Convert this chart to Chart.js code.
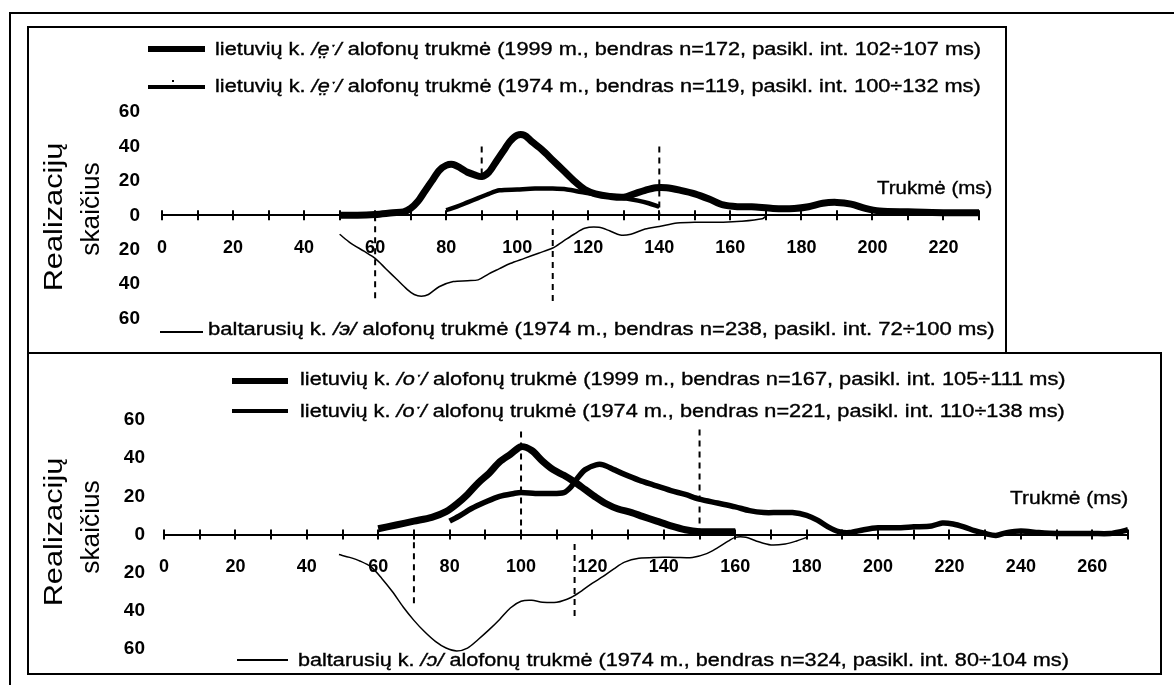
<!DOCTYPE html>
<html lang="lt">
<head>
<meta charset="UTF-8">
<title>Balsių trukmė</title>
<script src="https://cdn.jsdelivr.net/npm/chart.js"></script>
<style>
  body {
    margin: 0;
    width: 1174px;
    height: 685px;
    position: relative;
    overflow: hidden;
    background: #fff;
    color: #000;
    font-family: "Liberation Sans", Arial, sans-serif;
  }
  .rule { position: absolute; background: #000; }
  .box { position: absolute; border: 2px solid #000; box-sizing: border-box; }
  canvas { position: absolute; left: 0; }
  .txt {
    position: absolute;
    white-space: nowrap;
    line-height: 20px;
    font-size: 17.5px;
    -webkit-text-stroke: 0.35px #000;
  }
  .key { position: absolute; background: #000; }
</style>
</head>
<body>

<!-- frame -->
<div class="rule" style="left:9px; top:12px; width:1165px; height:2px;"></div>
<div class="rule" style="left:9px; top:12px; width:2px; height:673px;"></div>
<div class="box" style="left:27px; top:26px; width:980px; height:328px;"></div>
<div class="box" style="left:27px; top:352px; width:1135px; height:323px;"></div>

<!-- legend line samples -->
<div class="key" style="left:148px; top:46px; width:57px; height:6px;"></div>
<div class="key" style="left:148px; top:85px; width:57px; height:4px;"></div>
<div class="key" style="left:172px; top:80px; width:2px; height:2px;"></div>
<div class="key" style="left:160px; top:331px; width:43px; height:1.5px;"></div>
<div class="key" style="left:232px; top:378px; width:56px; height:6px;"></div>
<div class="key" style="left:232px; top:409px; width:56px; height:4px;"></div>
<div class="key" style="left:237px; top:659px; width:51px; height:1.5px;"></div>

<canvas id="topChart" width="1174" height="352" style="top:0; width:1174px; height:352px;"></canvas>
<canvas id="bottomChart" width="1174" height="333" style="top:352px; width:1174px; height:333px;"></canvas>

<script>
  const FONT = '"Liberation Sans", Arial, sans-serif';

  // /eː/ panel, duration (ms) -> count
  const eLt1999 = [[50,0],[55,0],[60,0.5],[65,1.5],[68,2],[70,4],[72,8],[74,14],[76,20],[78,26],[80,29],
    [82,29.5],[84,27.5],[86,25],[88,23.5],[90,22.5],[92,25],[94,31],[96,37],[98,43],[100,46.5],[102,46.5],
    [104,43],[107,38],[110,32],[113,26],[116,20],[119,15],[122,12.5],[126,11],[130,10.5],[133,12.5],
    [136,14.5],[139,16],[142,16],[146,14.5],[150,12.5],[154,9.5],[158,6],[162,5],[166,5],[172,4],[178,4],
    [182,5],[186,7],[190,7.5],[194,6.5],[198,4],[202,2.5],[210,2],[220,1.5],[230,1.5]];
  const eLt1974 = [[80,3],[83,5],[86,7.5],[89,10],[92,12.5],[95,14.5],[100,15],[105,15.5],[110,15.5],
    [114,15],[118,13.5],[122,12],[126,11],[130,10],[134,8.5],[137,7],[140,5]];
  const eBy1974 = [[50,-11],[53,-16],[57,-21],[60,-25],[63,-31],[66,-37],[69,-43],[71,-46],[73,-47],
    [75,-46],[78,-41.5],[82,-38.5],[86,-38],[89,-37.5],[92,-34],[95,-31],[98,-28],[102,-25],[106,-22],
    [110,-19],[113,-15],[116,-11],[119,-7.5],[123,-7],[126,-9],[129,-11.5],[132,-11],[136,-8],[140,-6.5],
    [145,-4.5],[150,-4],[158,-4],[163,-3.5],[169,-2],[170,-0.5]];
  const eDashes = [[[90,40],[90,22]], [[140,40],[140,0]], [[60,0],[60,-50]], [[110,-8],[110,-50]]];

  // /oː/ panel
  const oLt1999 = [[60,3],[65,5],[70,7],[75,9],[79,12],[82,16],[85,21],[88,27],[91,32],[94,38],[97,42],
    [100,46],[103,44],[106,38.5],[109,34],[112,31],[115,27.5],[118,23.5],[121,19.5],[124,16],[127,13.5],
    [131,11.5],[134,9.5],[138,7],[142,4.5],[146,2.5],[150,1.5],[155,1.5],[160,1.5]];
  const oLt1974 = [[80,7],[83,10],[86,13.5],[90,17],[94,20],[98,21.5],[100,22],[104,21.5],[108,21.5],
    [112,22],[114,25],[116,30],[118,34],[121,36.5],[123,36.5],[126,34],[129,31.5],[133,28.5],[137,26],
    [142,23],[146,21],[150,18.5],[155,16.5],[160,14.5],[164,12.5],[168,11.5],[172,11.5],[176,11.5],
    [180,10],[183,7.5],[186,4],[189,1.5],[192,1],[196,2.5],[200,3.5],[205,3.5],[210,4],[215,4.5],[218,6],
    [221,5.5],[224,4],[227,2],[230,0.5],[233,-0.5],[236,1],[240,1.8],[245,1],[250,0.5],[260,0.5],
    [265,0.5],[268,1.5],[270,2.5]];
  const oBy1974 = [[49,-10.5],[52,-12],[55,-14],[58,-17],[61,-23],[64,-30],[67,-38],[70,-45],[73,-51],
    [76,-56],[79,-59.5],[82,-61],[85,-59.5],[88,-55],[91,-50],[94,-44.5],[97,-38.5],[100,-35],[103,-34.5],
    [106,-35.5],[110,-35.5],[114,-33],[117,-29.5],[120,-25.5],[123,-22],[126,-18],[129,-14.5],[133,-12.5],
    [138,-12],[143,-12],[148,-12],[152,-10],[155,-7],[158,-3.5],[160,-1.5],[163,-1.5],[166,-3.5],
    [170,-5.5],[174,-5],[177,-3.5],[180,-1.5]];
  const oDashes = [[[100,54],[100,0]], [[150,55],[150,2]], [[70,-4],[70,-38]], [[115,-5],[115,-44]]];

  const toXY = pts => pts.map(([x, y]) => ({ x, y }));

  // tick marks that cross the zero line on both sides
  const crossTicks = {
    id: 'crossTicks',
    afterDraw(chart) {
      const xs = chart.scales.x, ys = chart.scales.y;
      const y0 = ys.getPixelForValue(0);
      const ctx = chart.ctx;
      ctx.save();
      ctx.strokeStyle = '#000';
      ctx.lineWidth = 2;
      xs.ticks.forEach(t => {
        const px = Math.round(xs.getPixelForValue(t.value));
        ctx.beginPath();
        ctx.moveTo(px, y0 - 5);
        ctx.lineTo(px, y0 + 5);
        ctx.stroke();
      });
      ctx.restore();
    }
  };

  function drawPanel(id, lines, dashes, xMax, pad, labelPad) {
    const datasets = lines.map(([pts, w]) => ({
      data: toXY(pts),
      borderColor: '#000',
      borderWidth: w,
      pointRadius: 0,
      tension: 0.3,
      fill: false,
      clip: false
    }));
    dashes.forEach(seg => datasets.push({
      data: toXY(seg),
      borderColor: '#000',
      borderWidth: 2,
      borderDash: [6, 5],
      pointRadius: 0,
      clip: false
    }));

    return new Chart(document.getElementById(id), {
      type: 'line',
      data: { datasets },
      options: {
        responsive: false,
        animation: false,
        layout: { padding: pad },
        plugins: { legend: { display: false }, tooltip: { enabled: false } },
        scales: {
          x: {
            type: 'linear', min: 0, max: xMax,
            position: { y: 0 },
            grid: { display: false, drawTicks: false },
            border: { display: true, color: '#000', width: 2 },
            ticks: {
              stepSize: 10, autoSkip: false, maxRotation: 0, padding: 22, color: '#000',
              font: { family: FONT, size: 18, weight: 'bold' },
              callback: v => (v % 20 === 0 ? v : '')
            }
          },
          y: {
            type: 'linear', min: -60, max: 60,
            grid: { display: false, drawTicks: false },
            border: { display: false },
            ticks: {
              stepSize: 20, padding: labelPad, color: '#000',
              font: { family: FONT, size: 19, weight: 'bold' },
              callback: v => Math.abs(v)
            },
            afterFit: s => { s.width = 60; }
          }
        }
      },
      plugins: [crossTicks]
    });
  }

  drawPanel('topChart', [[eLt1974, 4.5], [eLt1999, 7], [eBy1974, 1.5]], eDashes, 230,
    { left: 102, right: 195, top: 112, bottom: 28 }, 22);
  drawPanel('bottomChart', [[oLt1974, 5.5], [oLt1999, 7], [oBy1974, 1.5]], oDashes, 270,
    { left: 104, right: 46, top: 68, bottom: 36 }, 19);

  // text: [html, x, centerY, width, size, rotated]
  const texts = [
    ['lietuvių k. <i>/e̤ˑ/</i> alofonų trukmė (1999 m., bendras n=172, pasikl. int. 102÷107 ms)', 215, 49, 766, 17.5],
    ['lietuvių k. <i>/e̤ˑ/</i> alofonų trukmė (1974 m., bendras n=119, pasikl. int. 100÷132 ms)', 215, 86, 766, 17.5],
    ['baltarusių k. <i>/э/</i> alofonų trukmė (1974 m., bendras n=238, pasikl. int. 72÷100 ms)', 208, 329, 787, 17.5],
    ['Trukmė (ms)', 877, 188, 115, 18],
    ['lietuvių k. <i>/oˑ/</i> alofonų trukmė (1999 m., bendras n=167, pasikl. int. 105÷111 ms)', 300, 379, 765, 17.5],
    ['lietuvių k. <i>/oˑ/</i> alofonų trukmė (1974 m., bendras n=221, pasikl. int. 110÷138 ms)', 300, 411, 765, 17.5],
    ['baltarusių k. <i>/ɔ/</i> alofonų trukmė (1974 m., bendras n=324, pasikl. int. 80÷104 ms)', 298, 660, 771, 17.5],
    ['Trukmė (ms)', 1010, 498, 118, 18],
    ['Realizacijų', 53, 217, 149, 26, true],
    ['skaičius', 90, 209, 93, 26, true],
    ['Realizacijų', 53, 532, 149, 26, true],
    ['skaičius', 90, 527, 93, 26, true]
  ];

  texts.forEach(([html, x, cy, w, size, rotated]) => {
    const el = document.createElement('div');
    el.className = 'txt';
    el.style.fontSize = size + 'px';
    el.style.lineHeight = Math.round(size * 1.15) + 'px';
    if (rotated) el.style.webkitTextStroke = '0';
    el.innerHTML = html;
    document.body.appendChild(el);
    const k = w / el.offsetWidth;
    const h = el.offsetHeight;
    if (rotated) {
      el.style.left = (x - el.offsetWidth / 2) + 'px';
      el.style.top = (cy - h / 2) + 'px';
      el.style.transformOrigin = 'center center';
      el.style.transform = `rotate(-90deg) scaleX(${k})`;
    } else {
      el.style.left = x + 'px';
      el.style.top = (cy - h / 2) + 'px';
      el.style.transformOrigin = 'left center';
      el.style.transform = `scaleX(${k})`;
    }
  });
</script>
</body>
</html>
